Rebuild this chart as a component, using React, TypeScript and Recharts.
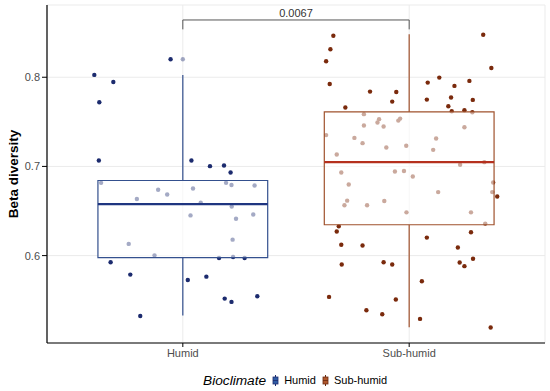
import React from 'react';
import {
  ScatterChart,
  Scatter,
  XAxis,
  YAxis,
  CartesianGrid,
  ReferenceArea,
  ReferenceLine,
} from 'recharts';

// ---------- data ----------
const categories = ['Humid', 'Sub-humid'];
const yTicks = [0.6, 0.7, 0.8];

// box-plot statistics per category
const q1 = [0.5978, 0.6346];
const medians = [0.6578, 0.7048];
const q3 = [0.6842, 0.7611];
const whiskerLow = [0.5327, 0.5197];
const whiskerHigh = [0.8026, 0.8482];
const humidOutliers = [0.8202];

// significance bracket
const bracketY = 0.8642;
const bracketTip = 0.8537;
const pLabel = '0.0067';

// jittered observations (value, horizontal jitter in category units)
const humidValues = [
  0.8026, 0.7947, 0.772, 0.8202, 0.7066, 0.7066, 0.7003, 0.701, 0.6932, 0.6816,
  0.6738, 0.6685, 0.6752, 0.6816, 0.6791, 0.6786, 0.6634, 0.6592, 0.6451, 0.6551,
  0.6413, 0.6461, 0.6131, 0.6179, 0.6003, 0.5985, 0.5973, 0.5973, 0.5925, 0.5787,
  0.5727, 0.5764, 0.5518, 0.5481, 0.5545, 0.5323,
];
const humidJitter = [
  -0.391, -0.307, -0.369, -0.054, -0.371, 0.038, 0.12, 0.182, 0.211, -0.361,
  -0.109, -0.069, 0.045, 0.191, 0.215, 0.317, -0.203, 0.079, 0.034, 0.216,
  0.235, 0.311, -0.239, 0.22, -0.125, 0.222, 0.16, 0.273, -0.319, -0.232,
  0.022, 0.104, 0.185, 0.215, 0.329, -0.188,
];
const subValues = [
  0.8466, 0.8313, 0.8179, 0.7925, 0.8477, 0.8104, 0.7839, 0.7835, 0.7727, 0.766,
  0.794, 0.7996, 0.7903, 0.7959, 0.7749, 0.7772, 0.7746, 0.7675, 0.7619, 0.763,
  0.7608, 0.7586, 0.753, 0.7492, 0.7514, 0.7536, 0.7459, 0.7447, 0.7351, 0.732,
  0.7261, 0.7212, 0.7231, 0.7313, 0.7186, 0.744, 0.7133, 0.7018, 0.7048, 0.6932,
  0.6943, 0.6948, 0.6887, 0.6798, 0.682, 0.6712, 0.6663, 0.6712, 0.6616, 0.6564,
  0.6564, 0.6613, 0.6485, 0.6485, 0.6359, 0.6329, 0.627, 0.6121, 0.6113, 0.6202,
  0.6262, 0.6091, 0.5964, 0.5923, 0.5882, 0.5901, 0.5926, 0.5901, 0.5713, 0.5537,
  0.5507, 0.5387, 0.5342, 0.529, 0.5193,
];
const subJitter = [
  -0.335, -0.348, -0.367, -0.351, 0.327, 0.363, -0.173, -0.057, -0.075, -0.282,
  0.082, 0.133, 0.2, 0.266, 0.078, 0.185, 0.281, 0.173, 0.188, 0.244,
  0.279, -0.2, -0.133, -0.14, -0.048, -0.04, -0.2, -0.113, -0.367, -0.242,
  -0.206, -0.101, -0.013, 0.119, 0.106, 0.244, -0.32, 0.225, 0.332, -0.3,
  -0.063, -0.023, 0.016, -0.267, 0.371, 0.367, 0.389, 0.128, -0.274, -0.286,
  -0.186, -0.11, -0.012, 0.273, 0.336, -0.311, -0.32, -0.3, -0.206, 0.078,
  0.273, 0.215, 0.282, 0.223, 0.244, -0.298, -0.113, -0.075, 0.056, -0.354,
  -0.059, -0.189, -0.119, 0.048, 0.36,
];

// ---------- styles ----------
const FONT = '"Liberation Sans", Arial, Helvetica, sans-serif';
const pointColors = ['#1c2b6e', '#7a2a0c'];
const boxColors = ['#34508e', '#a0522d'];
const medianColors = ['#1f3580', '#b5301e'];
const keyColors = ['#2f5ca6', '#b0582c'];
const BOX_HALF = 0.375;

const humidData = humidValues.map((v, i) => ({ x: 1 + humidJitter[i], y: v }));
const subData = subValues.map((v, i) => ({ x: 2 + subJitter[i], y: v }));
const outlierData = humidOutliers.map((v) => ({ x: 1, y: v }));

const dot = (color: string, opacity = 1) => (props: any) => (
  <circle cx={props.cx} cy={props.cy} r={2.2} fill={color} fillOpacity={opacity} />
);

const LegendKey = ({ color, edge }: { color: string; edge: string }) => (
  <svg width={7} height={11} style={{ display: 'block' }}>
    <line x1={3.5} y1={0} x2={3.5} y2={11} stroke={edge} strokeWidth={1} />
    <rect x={1} y={2} width={5} height={7} fill={color} stroke={edge} strokeWidth={0.8} />
    <line x1={1} y1={5.5} x2={6} y2={5.5} stroke={edge} strokeWidth={0.8} />
  </svg>
);

export default function App() {
  return (
    <div style={{ position: 'absolute', left: 0, top: 0, width: 550, height: 391, background: '#fff', fontFamily: FONT }}>
      <ScatterChart width={550} height={391} margin={{ top: 5, right: 5, bottom: 0, left: 0 }}>
        <CartesianGrid stroke="#ebebeb" strokeWidth={1} />
        <XAxis
          type="number"
          dataKey="x"
          domain={[0.4, 2.6]}
          ticks={[1, 2]}
          tickFormatter={(v: number) => categories[Math.round(v) - 1]}
          height={48}
          axisLine={{ stroke: '#000', strokeWidth: 1.2 }}
          tickLine={{ stroke: '#000' }}
          tickSize={4}
          tickMargin={2}
          tick={{ fill: '#4d4d4d', fontSize: 11, fontFamily: FONT }}
          allowDataOverflow
        />
        <YAxis
          type="number"
          dataKey="y"
          domain={[0.502, 0.881]}
          ticks={yTicks}
          tickFormatter={(v: number) => v.toFixed(1)}
          width={47}
          axisLine={{ stroke: '#000', strokeWidth: 1.2 }}
          tickLine={{ stroke: '#000' }}
          tickSize={5}
          tickMargin={2}
          tick={{ fill: '#4d4d4d', fontSize: 11, fontFamily: FONT }}
          allowDataOverflow
          label={(p: any) => {
            const vb = p.viewBox || { x: 0, y: 5, width: 47, height: 338 };
            const cx = 13;
            const cy = vb.y + vb.height / 2;
            return (
              <text
                x={cx}
                y={cy}
                transform={`rotate(-90 ${cx} ${cy})`}
                textAnchor="middle"
                dominantBaseline="central"
                fontSize={13.5}
                fontWeight="bold"
                fontFamily={FONT}
                fill="#000"
              >
                Beta diversity
              </text>
            );
          }}
        />
        <Scatter data={humidData} isAnimationActive={false} shape={dot(pointColors[0])} />
        <Scatter data={subData} isAnimationActive={false} shape={dot(pointColors[1])} />
        <Scatter data={outlierData} isAnimationActive={false} shape={dot(pointColors[0], 0.4)} />

        {categories.map((c, i) => {
          const cx = i + 1;
          return (
            <React.Fragment key={c}>
              <ReferenceLine
                segment={[{ x: cx, y: q3[i] }, { x: cx, y: whiskerHigh[i] }]}
                stroke={boxColors[i]}
                strokeWidth={1.2}
                zIndex={700}
              />
              <ReferenceLine
                segment={[{ x: cx, y: whiskerLow[i] }, { x: cx, y: q1[i] }]}
                stroke={boxColors[i]}
                strokeWidth={1.2}
                zIndex={700}
              />
              <ReferenceArea
                x1={cx - BOX_HALF}
                x2={cx + BOX_HALF}
                y1={q1[i]}
                y2={q3[i]}
                fill="#ffffff"
                fillOpacity={0.6}
                stroke={boxColors[i]}
                strokeWidth={1.2}
                strokeOpacity={1}
                zIndex={700}
              />
              <ReferenceLine
                segment={[{ x: cx - BOX_HALF, y: medians[i] }, { x: cx + BOX_HALF, y: medians[i] }]}
                stroke={medianColors[i]}
                strokeWidth={2.2}
                zIndex={710}
              />
            </React.Fragment>
          );
        })}

        <ReferenceLine
          segment={[{ x: 1, y: bracketY }, { x: 2, y: bracketY }]}
          stroke="#555"
          strokeWidth={1}
          zIndex={720}
          label={{ value: pLabel, position: 'top', offset: 3, fontSize: 11, fill: '#333', fontFamily: FONT }}
        />
        <ReferenceLine segment={[{ x: 1, y: bracketTip }, { x: 1, y: bracketY }]} stroke="#555" strokeWidth={1} zIndex={720} />
        <ReferenceLine segment={[{ x: 2, y: bracketTip }, { x: 2, y: bracketY }]} stroke="#555" strokeWidth={1} zIndex={720} />
      </ScatterChart>

      {/* legend */}
      <div style={{ position: 'absolute', top: 371, left: 203, height: 18, display: 'flex', alignItems: 'center', fontFamily: FONT, color: '#000' }}>
        <span style={{ fontStyle: 'italic', fontSize: 13.7, marginRight: 6 }}>Bioclimate</span>
        <LegendKey color={keyColors[0]} edge="#1c2b6e" />
        <span style={{ fontSize: 11, marginLeft: 5, marginRight: 6 }}>{categories[0]}</span>
        <LegendKey color={keyColors[1]} edge="#6a2a10" />
        <span style={{ fontSize: 11, marginLeft: 5 }}>{categories[1]}</span>
      </div>
    </div>
  );
}
